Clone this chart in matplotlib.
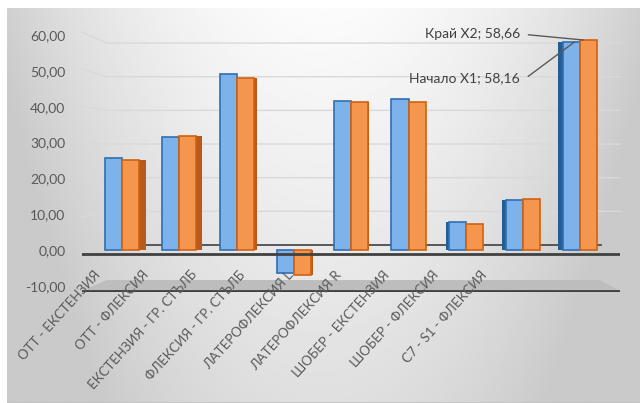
import numpy as np
import matplotlib
matplotlib.use("Agg")
import matplotlib.pyplot as plt
from matplotlib.patches import Polygon
from matplotlib.ticker import FuncFormatter
import matplotlib.transforms as mtransforms

plt.rcParams['font.family'] = ['Lato', 'Noto Sans', 'DejaVu Sans']

categories = ['OTT - ЕКСТЕНЗИЯ', 'OTT - ФЛЕКСИЯ', 'ЕКСТЕНЗИЯ - ГР. СТЪЛБ',
              'ФЛЕКСИЯ - ГР. СТЪЛБ', 'ЛАТЕРОФЛЕКСИЯ L', 'ЛАТЕРОФЛЕКСИЯ R',
              'ШОБЕР - ЕКСТЕНЗИЯ', 'ШОБЕР - ФЛЕКСИЯ', 'C7 - S1 - ФЛЕКСИЯ']
start_x1 = [25.6, 31.5, 49.3, -6.4, 41.6, 42.1, 7.8, 14.0, 58.16]
end_x2 = [25.1, 31.8, 48.1, -6.9, 41.2, 41.2, 7.2, 14.3, 58.66]
yticks = [-10, 0, 10, 20, 30, 40, 50, 60]

fig = plt.figure(figsize=(6.4, 4.03), dpi=100, facecolor='white')

# soft grey gradient behind the chart
bg = fig.add_axes([7 / 640, 0, 633 / 640, 395 / 403], zorder=0)
gx, gy = np.meshgrid(np.linspace(0, 1, 300), np.linspace(0, 1, 200))
shade = 0.985 - 0.17 * ((gx - 0.5) / 0.5) ** 2 - 0.11 * gy
shade = np.clip(shade, 0.79, 1)
bg.imshow(shade, cmap='gray', vmin=0, vmax=1, aspect='auto', extent=[0, 1, 1, 0])
bg.axhline(1, color='#c4c4c4', lw=2)
bg.set_xlim(0, 1)
bg.set_ylim(1, 0)
bg.set_axis_off()

ax = fig.add_axes([82 / 640, 1 - 291.5 / 403, 538 / 640, 256.3 / 403], zorder=1)
ax.patch.set_alpha(0)
ax.set_xlim(-0.698, 8.691)
ax.set_ylim(-11.6, 60)

x = np.arange(len(categories))
w = 0.297

blended = mtransforms.blended_transform_factory(ax.transAxes, ax.transData)

# back wall gridlines with their slanted front ends
for v in yticks[2:]:
    front = -1.1 + 1.033 * v
    back = 1.4 + 0.94 * v
    ax.plot([0, 0.046, 1], [front, back, back], color='#d9d9d9', lw=1,
            transform=blended, clip_on=False, zorder=1)
ax.plot([0.046, 0.965], [1.4, 1.4], color='#404040', lw=1.2, transform=blended, zorder=1)

# floor
floor = Polygon([(0, -11.5), (1, -11.5), (0.963, -8.4), (0.046, -8.4)],
                closed=True, transform=blended, facecolor='#bdbdbd',
                edgecolor='none', zorder=1)
ax.add_patch(floor)
ax.plot([0, 1], [-11.5, -11.5], color='#404040', lw=2, transform=blended, zorder=2)

# bars
ax.bar(x - w / 2, start_x1, w, color='#7db3ea', edgecolor='#2e6fb3', lw=1.2, zorder=3)
ax.bar(x + w / 2, end_x2, w, color='#f5964f', edgecolor='#d0620f', lw=1.2, zorder=3)

# side faces
for i in range(len(categories)):
    s = 0.12 * abs(4.5 - i) / 4.5
    if i < 4.5:
        ax.bar(i + w + s / 2, end_x2[i], s, color='#b85a1c', edgecolor='none', zorder=2)
    else:
        ax.bar(i - w - s / 2, start_x1[i], s, color='#245d93', edgecolor='none', zorder=2)

ax.plot([0, 1], [-1.1, -1.1], color='#404040', lw=2, transform=blended, zorder=4)

ax.set_xticks([])
ax.set_yticks(yticks)
ax.yaxis.set_major_formatter(FuncFormatter(lambda v, p: f'{v:.2f}'.replace('.', ',')))
ax.tick_params(axis='y', length=0, pad=12, labelsize=10, labelcolor='#595959')
for sp in ax.spines.values():
    sp.set_visible(False)

# category labels along the front floor edge
for i, name in enumerate(categories):
    ax.text(-0.42 + 0.843 * i, -6.3, name, rotation=48, rotation_mode='anchor',
            ha='right', va='center', fontsize=9.5, color='#595959', zorder=5)

ax.annotate('Край X2; 58,66', xy=(8 + 0.05, end_x2[8]), xycoords='data',
            xytext=(520, 369), textcoords='figure pixels', ha='right', va='center',
            fontsize=10, color='#404040',
            arrowprops=dict(arrowstyle='-', color='#595959', lw=1, relpos=(1, 0.5),
                            shrinkA=4, shrinkB=0), zorder=6)
ax.annotate('Начало X1; 58,16', xy=(8 - 0.1, start_x1[8]), xycoords='data',
            xytext=(520, 325), textcoords='figure pixels', ha='right', va='center',
            fontsize=10, color='#404040',
            arrowprops=dict(arrowstyle='-', color='#595959', lw=1, relpos=(1, 0.5),
                            shrinkA=4, shrinkB=0,
                            connectionstyle='arc,angleA=0,angleB=0,armA=6,armB=0,rad=0'),
            zorder=6)

fig.savefig('out.png', dpi=100)
